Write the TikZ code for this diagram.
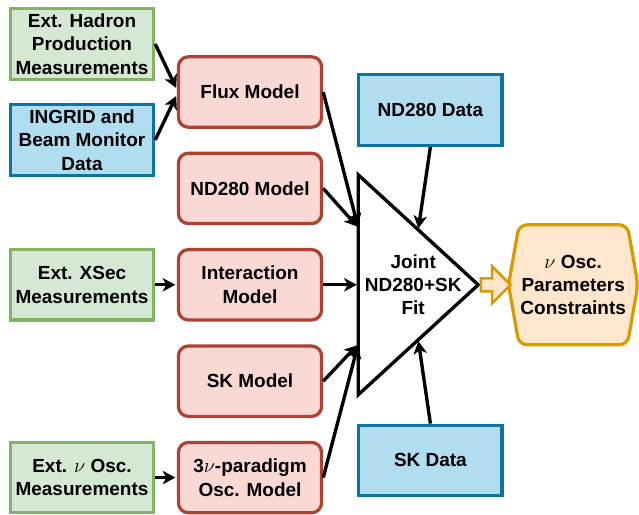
\documentclass[tikz,border=0pt]{standalone}
\usepackage{fontspec}
\setmainfont{Liberation Sans}
\usepackage{amsmath}
\usepackage{xcolor}
\usepackage{tikz}
\usetikzlibrary{positioning}
\usetikzlibrary{shapes.symbols,shapes.arrows,calc,arrows.meta}

\definecolor{extfill}{HTML}{D5E8D4}
\definecolor{extline}{HTML}{82B366}
\definecolor{datafill}{HTML}{B1DDF0}
\definecolor{dataline}{HTML}{10739E}
\definecolor{modelfill}{HTML}{FAD9D5}
\definecolor{modelline}{HTML}{AE4132}
\definecolor{oscfill}{HTML}{FFE6CC}
\definecolor{oscline}{HTML}{D79B00}

\begin{document}
\begin{tikzpicture}[shorten >=1pt,node distance=2.41cm,on grid,
    font=\fontsize{13.5}{16.6}\selectfont\bfseries,
    box/.style={rectangle,line width=2.3pt,minimum width=3.58cm,minimum height=1.76cm,align=center,inner sep=2pt},
    ext/.style={box,draw=extline,fill=extfill},
    data/.style={box,draw=dataline,fill=datafill},
    model/.style={box,draw=modelline,fill=modelfill,rounded corners=0.25cm},
    conn/.style={line width=2.4pt,-{Stealth[length=9pt,width=9.5pt,inset=2.5pt]}}]
   \useasboundingbox (0,0) rectangle (15.975,-12.85);
   \node[model] (m_flux) at (6.25,-2.3) {Flux Model};
   \node[model] (m_nd)  [below=of m_flux] {ND280 Model};
   \node[model] (m_int) [below=of m_nd]   {Interaction\\Model};
   \node[model] (m_sk)  [below=of m_int]  {SK Model};
   \node[model] (m_osc) [below=of m_sk]   {3$\nu$-paradigm\\Osc. Model};
   \node[ext]  (e_had)  [above left=1.2cm and 4.2cm of m_flux] {Ext. Hadron\\Production\\Measurements};
   \node[data] (d_beam) [below left=1.2cm and 4.2cm of m_flux] {INGRID and\\Beam Monitor\\Data};
   \node[ext]  (e_xsec) [left=4.2cm of m_int] {Ext. XSec\\Measurements};
   \node[ext]  (e_osc)  [left=4.2cm of m_osc] {Ext. $\nu$ Osc.\\Measurements};
   \node[data] (d_nd) [below right=0.45cm and 4.51cm of m_flux] {ND280 Data};
   \node[data] (d_sk) [above right=0.43cm and 4.51cm of m_osc]  {SK Data};
   % joint fit triangle
   \node[align=center] (fit) [right=4.08cm of m_int] {Joint\\ND280+SK\\Fit};
   \coordinate (fit_t) at ($(fit)+(-1.375,2.75)$);
   \coordinate (fit_b) at ($(fit)+(-1.375,-2.75)$);
   \coordinate (fit_r) at ($(fit)+(1.625,0)$);
   \draw[line width=2.4pt] (fit_t) -- (fit_r) -- (fit_b) -- cycle;
   \coordinate (in_a) at ($(fit_t)!0.24!(fit_b)$);
   \coordinate (in_m) at ($(fit_t)!0.5!(fit_b)$);
   \coordinate (in_b) at ($(fit_t)!0.77!(fit_b)$);
   \coordinate (in_c) at ($(fit_t)!0.5!(fit_r)$);
   \coordinate (in_d) at ($(fit_b)!0.5!(fit_r)$);
   % result
   \node[signal,signal to=west and east,signal pointer angle=160,draw=oscline,fill=oscfill,
         line width=2.3pt,rounded corners=0.2cm,minimum width=3.15cm,minimum height=3cm,
         align=center,inner sep=1pt] (res) [right=8.08cm of m_int] {$\nu$ Osc.\\Parameters\\Constraints};
   \node[single arrow,draw=oscline,fill=oscfill,line width=1.8pt,minimum height=0.74cm,
         inner xsep=0pt,inner ysep=0.13cm,single arrow head extend=0.3cm] (go)
         at ($(fit_r)!0.5!(res.west)$) {};
    \path[conn]
    (e_had.east)  edge ([yshift=2pt]m_flux.west)
    (d_beam.east) edge ([yshift=-2pt]m_flux.west)
    (e_xsec) edge (m_int)
    (e_osc)  edge (m_osc)
    (m_flux.east) edge (in_a)
    (m_nd.east)   edge (in_a)
    (m_int.east)  edge (in_m)
    (m_sk.east)   edge (in_b)
    (m_osc.east)  edge (in_b)
    (d_nd.south)  edge (in_c)
    (d_sk.north)  edge (in_d);
\end{tikzpicture}
\end{document}
